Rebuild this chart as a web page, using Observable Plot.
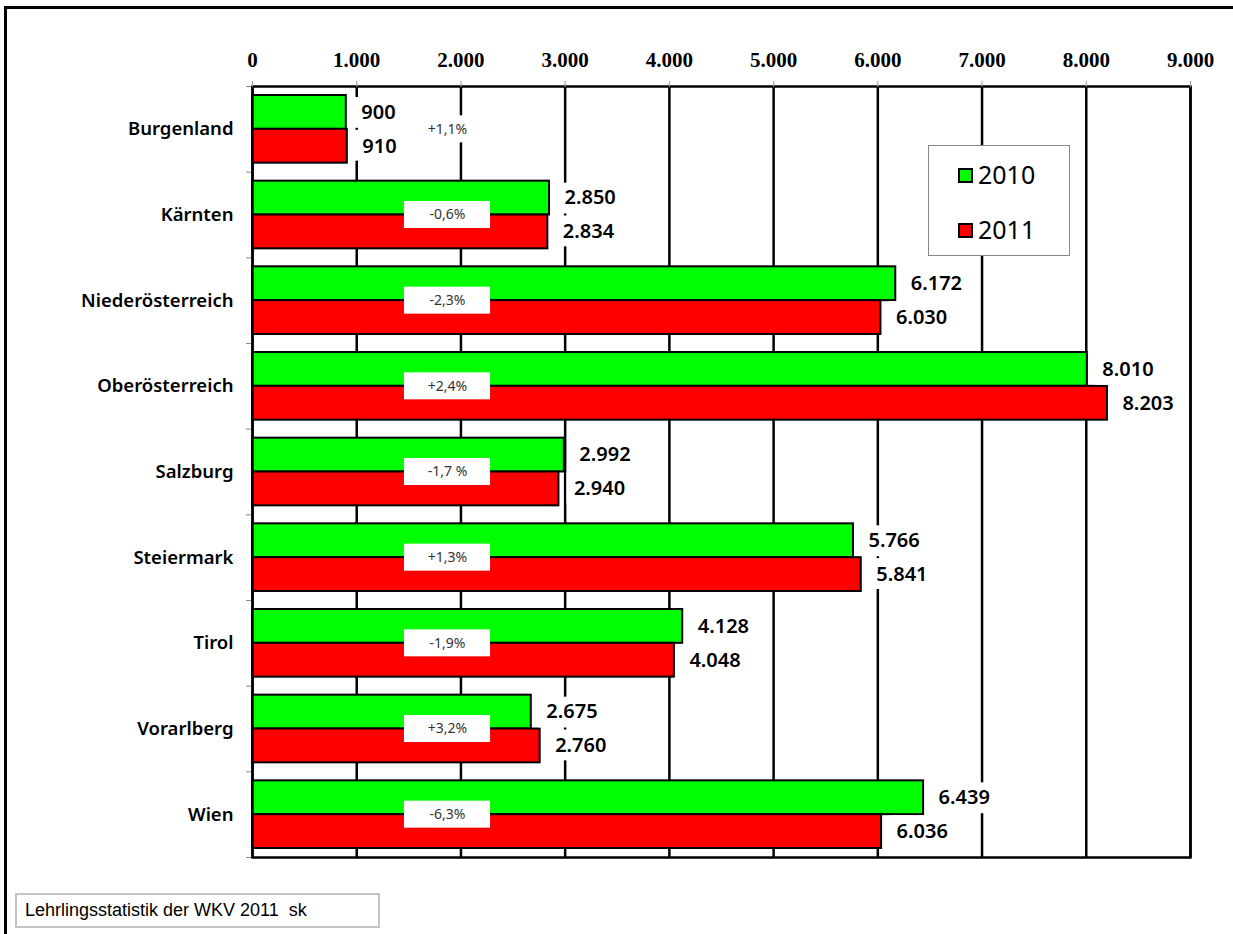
<!DOCTYPE html>
<html><head><meta charset="utf-8">
<script src="https://cdn.jsdelivr.net/npm/d3@7"></script>
<script src="https://cdn.jsdelivr.net/npm/@observablehq/plot@0.6"></script>
<style>
html,body{margin:0;overflow:hidden;}
body{background:#fff;width:1233px;height:934px;position:relative;}
#chart{position:absolute;left:0;top:0;}
#outer{position:absolute;left:4px;top:6px;width:1229px;height:928px;box-sizing:border-box;border-top:3px solid #000;border-left:3px solid #000;pointer-events:none;}
#legend{position:absolute;left:928px;top:145px;width:140px;height:109px;border:1px solid #888;background:#fff;font-family:"Noto Sans",sans-serif;font-size:25px;}
.li{position:absolute;left:29px;height:30px;line-height:30px;}
.li span.sw{display:inline-block;width:11px;height:11px;border:2px solid #000;margin-right:5px;vertical-align:1px;}
#caption{position:absolute;left:15px;top:893px;width:353px;height:31px;border:2px solid #c4c4c4;background:#fff;font-family:"Liberation Sans",Arial,sans-serif;font-size:18px;line-height:31px;padding-left:8px;box-sizing:content-box;white-space:pre;}
</style></head>
<body>
<div id="chart"></div>
<div id="legend"></div>
<div id="caption">Lehrlingsstatistik der WKV 2011  sk</div>
<div id="outer"></div>
<script>
const regions = ["Burgenland","Kärnten","Niederösterreich","Oberösterreich","Salzburg","Steiermark","Tirol","Vorarlberg","Wien"];
const values2010 = [900, 2850, 6172, 8010, 2992, 5766, 4128, 2675, 6439];
const values2011 = [910, 2834, 6030, 8203, 2940, 5841, 4048, 2760, 6036];
const changeLabels = ["+1,1%","-0,6%","-2,3%","+2,4%","-1,7 %","+1,3%","-1,9%","+3,2%","-6,3%"];
const xTicks = [0,1000,2000,3000,4000,5000,6000,7000,8000,9000];
const years = ["2010","2011"];
const yearColors = ["#00ff00","#ff0000"];
const pctBox = [1458, 2284];   // x extent (data units) of the change-label boxes

const W = 1233, H = 934, mT = 86, mB = 77, mL = 252, mR = 43;
const padIn = 0.21, padOut = 0.105;
const step = (H - mT - mB) / (regions.length - padIn + 2 * padOut);
const bw = step * (1 - padIn);
const pxPerUnit = (W - mL - mR) / 9000;

const table = regions.map((r, i) => ({region: r, v2010: values2010[i], v2011: values2011[i], change: changeLabels[i]}));
const loc = d3.formatLocale({decimal: ",", thousands: ".", grouping: [3], currency: ["", "€"]});
const fmt = loc.format(",d");

const valFont = {fontFamily: "Noto Sans, sans-serif", fontSize: 20, fontWeight: 600};
const labelDx = 15;
// approximate label width in px (digits ~11.4px, period ~5.3px)
const labelW = s => s.replace(/[^0-9]/g, "").length * 11.6 + (s.includes(".") ? 5.5 : 0);
const boxEnd = v => v + (labelDx + labelW(fmt(v)) + 5) / pxPerUnit;

const chart = Plot.plot({
  width: W, height: H,
  marginTop: mT, marginBottom: mB, marginLeft: mL, marginRight: mR,
  x: {domain: [0, 9000]},
  y: {domain: regions, paddingInner: padIn, paddingOuter: padOut, round: false},
  marks: [
    Plot.ruleX(xTicks, {x: d => d, stroke: "#000", strokeWidth: 2.5}),
    Plot.barX(table, {x: "v2010", y: "region", fill: yearColors[0], stroke: "#000", strokeWidth: 2, insetBottom: bw / 2}),
    Plot.barX(table, {x: "v2011", y: "region", fill: yearColors[1], stroke: "#000", strokeWidth: 2, insetTop: bw / 2}),
    // white boxes behind value labels
    Plot.barX(table, {x1: "v2010", x2: d => boxEnd(d.v2010), y: "region", fill: "#fff", insetLeft: 8, insetTop: 2, insetBottom: bw / 2 + 1}),
    Plot.barX(table, {x1: "v2011", x2: d => boxEnd(d.v2011), y: "region", fill: "#fff", insetLeft: 8, insetTop: bw / 2 + 1, insetBottom: 2}),
    // change boxes
    Plot.barX(table, {x1: () => pctBox[0], x2: () => pctBox[1], y: "region", fill: "#fff", insetTop: (bw - 27) / 2, insetBottom: (bw - 27) / 2}),
    Plot.text(table, {x: () => (pctBox[0] + pctBox[1]) / 2, y: "region", text: "change", fill: "#333", fontFamily: "Noto Sans, sans-serif", fontSize: 14}),
    Plot.text(table, {x: "v2010", y: "region", text: d => fmt(d.v2010), dx: labelDx, dy: -bw / 4, textAnchor: "start", fill: "#000", ...valFont}),
    Plot.text(table, {x: "v2011", y: "region", text: d => fmt(d.v2011), dx: labelDx, dy: bw / 4, textAnchor: "start", fill: "#000", ...valFont}),
    Plot.ruleY(regions, {y: d => d, x1: () => -58, x2: () => 0, dy: -step / 2, stroke: "#888", strokeWidth: 1}),
    Plot.ruleY(regions.slice(-1), {y: d => d, x1: () => -58, x2: () => 0, dy: step / 2, stroke: "#888", strokeWidth: 1}),
    Plot.frame({stroke: "#000", strokeWidth: 2.5}),
    Plot.axisX(xTicks, {anchor: "top", label: null, tickSize: 6, tickPadding: 14, stroke: "#999", fill: "#000", tickFormat: fmt, fontFamily: "Liberation Serif, serif", fontSize: 21, fontWeight: "bold"}),
    Plot.axisY({label: null, tickSize: 0, tickPadding: 19, fill: "#000", fontFamily: "Noto Sans, sans-serif", fontSize: 18.5, fontWeight: 600})
  ]
});
document.getElementById("chart").appendChild(chart);

const legend = document.getElementById("legend");
years.forEach((y, i) => {
  const d = document.createElement("div");
  d.className = "li";
  d.style.top = (13 + i * 55) + "px";
  d.innerHTML = `<span class="sw" style="background:${yearColors[i]}"></span>${y}`;
  legend.appendChild(d);
});
</script>
</body></html>
